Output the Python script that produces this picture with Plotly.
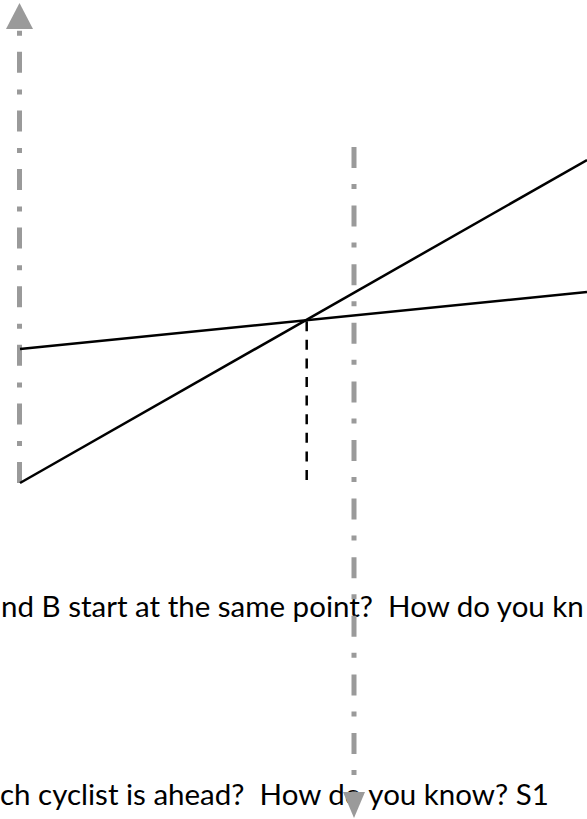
import plotly.graph_objects as go

# page size of the cropped worksheet figure
W, H = 587, 819

# distance-time graph, in page units (x to the right, y upward)
axis_left_x = [19.5, 19.5]
axis_left_y = [336, 790]          # dash-dot axis, bottom -> arrow base
axis_left_tip = [19.5, 816]

cyclist_a_x = [20, 587]           # shallow line
cyclist_a_y = [470, 527]
cyclist_b_x = [20, 587]           # steep line
cyclist_b_y = [336, 659]

cross_x = [306.7, 306.7]          # dashed drop from the crossing point
cross_y = [339, 499.5]

axis_mid_x = [354, 354]
axis_mid_y = [672, 27]            # dash-dot line, top -> arrow base
axis_mid_tip = [354, 1]

questions = ["nd B start at the same point?  How do you kn",
             "ch cyclist is ahead?  How do you know? S1"]
question_x = [1, 0]
question_y = [209, 21]

grey = '#9a9a9a'
dashdot = '21px,16px,5px,16.6px'

fig = go.Figure()

# question text goes first so the gray axis is drawn over it
fig.add_trace(go.Scatter(x=question_x, y=question_y, text=questions,
                         mode='text', textposition='middle right',
                         textfont=dict(family='Lato', size=29.5, color='black'),
                         hoverinfo='skip'))

# gray dash-dot axes
fig.add_trace(go.Scatter(x=axis_left_x, y=axis_left_y, mode='lines',
                         line=dict(color=grey, width=5, dash=dashdot)))
fig.add_trace(go.Scatter(x=axis_mid_x, y=axis_mid_y, mode='lines',
                         line=dict(color=grey, width=5, dash=dashdot)))


def arrow_head(base_x, base_y, tip, half):
    # triangle between the end of the axis line and its tip
    xs = [base_x - half, base_x + half, tip[0], base_x - half]
    ys = [base_y, base_y, tip[1], base_y]
    return go.Scatter(x=xs, y=ys, mode='lines', fill='toself',
                      fillcolor=grey, line=dict(color=grey, width=0))


fig.add_trace(arrow_head(axis_left_x[1], axis_left_y[1], axis_left_tip, 13.5))
fig.add_trace(arrow_head(axis_mid_x[1], axis_mid_y[1], axis_mid_tip, 11))

# the two cyclists
fig.add_trace(go.Scatter(x=cyclist_a_x, y=cyclist_a_y, mode='lines',
                         line=dict(color='black', width=2.5)))
fig.add_trace(go.Scatter(x=cyclist_b_x, y=cyclist_b_y, mode='lines',
                         line=dict(color='black', width=2.5)))
fig.add_trace(go.Scatter(x=cross_x, y=cross_y, mode='lines',
                         line=dict(color='black', width=2.5, dash='10px,8.6px')))

fig.update_xaxes(range=[0, W], visible=False, fixedrange=True)
fig.update_yaxes(range=[0, H], visible=False, fixedrange=True)
fig.update_layout(width=W, height=H, showlegend=False,
                  margin=dict(l=0, r=0, t=0, b=0),
                  paper_bgcolor='white', plot_bgcolor='white')

# no page margin so the figure sits flush in the window
fig.write_html('out.html', config={'displayModeBar': False},
               post_script="document.body.style.margin='0';")
